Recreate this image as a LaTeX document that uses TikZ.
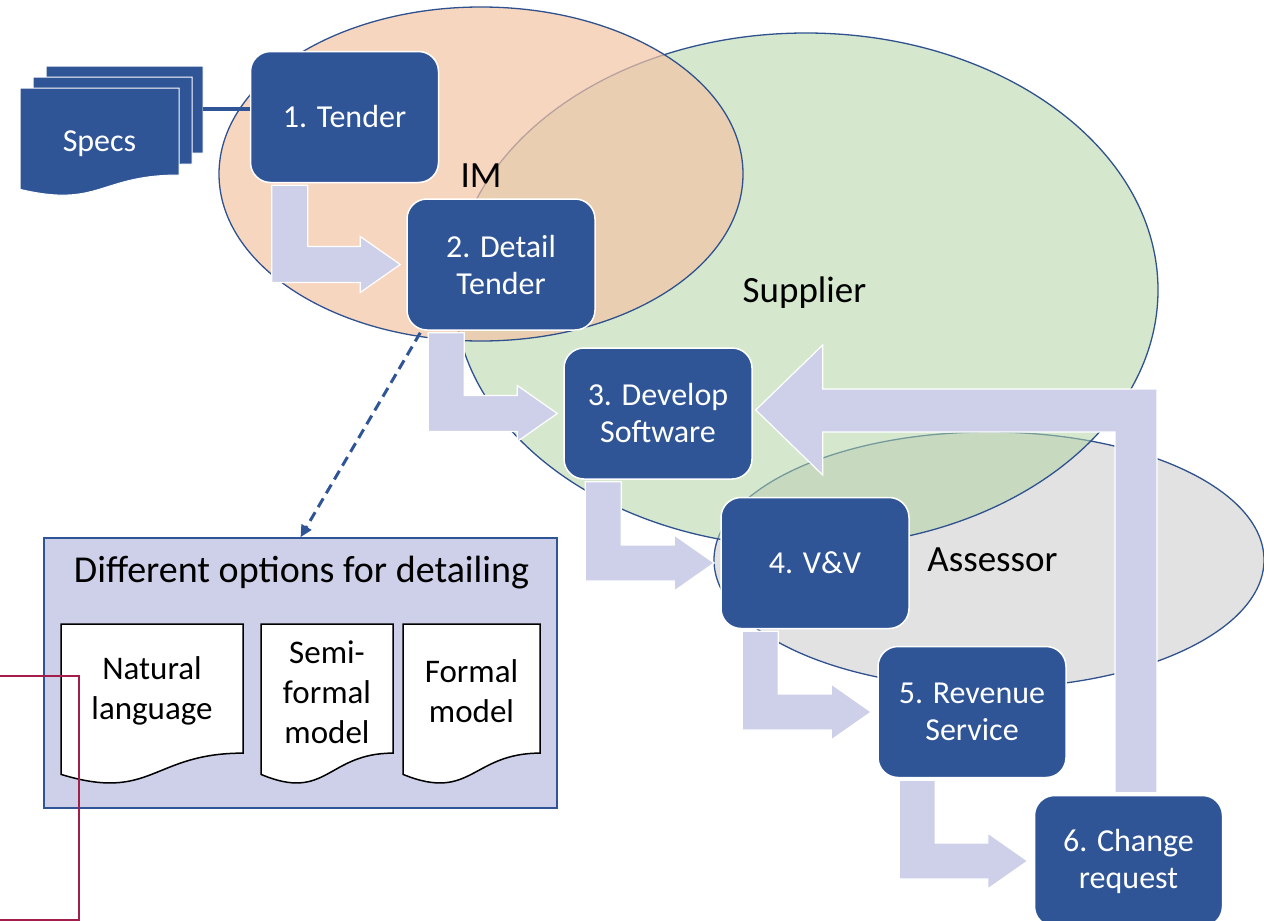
\documentclass[tikz,border=0pt]{standalone}
\usepackage{fontspec}
\setmainfont{Carlito}
\usetikzlibrary{arrows.meta,calc}

\definecolor{boxblue}{HTML}{2F5597}
\definecolor{flowlav}{HTML}{CDD0E8}
\definecolor{imfill}{RGB}{244,196,165}
\definecolor{supfill}{RGB}{178,213,165}
\definecolor{assfill}{HTML}{E2E2E2}
\definecolor{edgeblue}{HTML}{2F528F}
\definecolor{markred}{RGB}{165,30,75}

\tikzset{
  stage/.style={draw=white,line width=1.5pt,fill=boxblue,rounded corners=20pt,
    minimum width=188pt,minimum height=131pt,text=white,align=center,
    font=\fontsize{32}{37}\selectfont},
  region/.style={draw=edgeblue,line width=1.3pt},
  tag/.style={anchor=base,font=\fontsize{37}{44}\selectfont},
  flow/.style={fill=flowlav,draw=white,line width=1.2pt},
  docpage/.style={fill=white,draw=black,line width=1.5pt},
  specsheet/.style={fill=boxblue,draw=white,line width=1pt},
  doctext/.style={align=center,font=\fontsize{33}{40}\selectfont},
}

% sheet with wavy lower edge: style, x, y, width, height
\newcommand{\docsheet}[5]{%
  \draw[#1] (#2,#3) -- ({#2+#4},#3) -- ({#2+#4},{#3+0.802*#5})
    .. controls ({#2+0.5*#4},{#3+0.802*#5}) and ({#2+0.5*#4},{#3+1.1075*#5})
    .. (#2,{#3+0.934*#5}) -- cycle;}

% fat bent arrow from the bottom of one stage to the left side of the next
\newcommand{\bentflow}[2]{%
  \path[flow] let \p1=(#1.south west), \p2=(#2.west) in
    (\x1+22pt,\y1-2pt) -- (\x1+58pt,\y1-2pt) -- (\x1+58pt,\y2+18pt)
    -- (\x2-46pt,\y2+18pt) -- (\x2-46pt,\y2+28pt) -- (\x2-6pt,\y2)
    -- (\x2-46pt,\y2-28pt) -- (\x2-46pt,\y2-18pt) -- (\x1+22pt,\y2-18pt) -- cycle;}

\begin{document}
\begin{tikzpicture}[x=1pt,y=-1pt]
\useasboundingbox (0,0) rectangle (1264,921);

\draw[region,fill=assfill] (989,560) ellipse [x radius=275pt,y radius=128pt];
\draw[region,fill=supfill,fill opacity=0.55] (806,290) ellipse [x radius=352pt,y radius=257pt];
\draw[region,fill=imfill,fill opacity=0.7] (481,174) ellipse [x radius=262pt,y radius=167pt];

\node[tag] (lim) at (481,187) {IM};
\node[tag] (lsup) at (804.5,302) {Supplier};
\node[tag] (lass) at (992.5,571) {Assessor};

\node[stage] (t1) at (344.5,117) {1. Tender};
\node[stage] (t2) at (501,264.5) {2. Detail\\Tender};
\node[stage] (t3) at (658,413.5) {3. Develop\\Software};
\node[stage] (t4) at (815,563) {4. V\&V};
\node[stage] (t5) at (972,712) {5. Revenue\\Service};
\node[stage] (t6) at (1128.5,861) {6. Change\\request};

\bentflow{t1}{t2}
\bentflow{t2}{t3}
\bentflow{t3}{t4}
\bentflow{t4}{t5}
\bentflow{t5}{t6}
\path[flow] let \p1=(t6.north), \p2=(t3.east) in
  (\x1-13.5pt,\y1+2pt) -- (\x1+28.5pt,\y1+2pt) -- (\x1+28.5pt,\y2+24.5pt)
  -- (\x2+70pt,\y2+24.5pt) -- (\x2+70pt,\y2+68.5pt) -- (\x2+3pt,\y2+3.5pt)
  -- (\x2+70pt,\y2-61.5pt) -- (\x2+70pt,\y2-18.5pt) -- (\x1-13.5pt,\y2-18.5pt) -- cycle;

\docsheet{specsheet}{46}{66}{157}{108.5}
\docsheet{specsheet}{33}{77}{159}{108.5}
\docsheet{specsheet}{20}{88}{159}{108.5}
\node[text=white,anchor=base,font=\fontsize{32}{37}\selectfont] (specs) at (99.5,151) {Specs};
\coordinate (specsedge) at (203,109);
\draw[boxblue,line width=4pt] (specsedge) -- (specsedge -| t1.west);

\node[draw=boxblue,line width=1.5pt,fill=flowlav,minimum width=513pt,minimum height=270pt,inner sep=0pt] (opts) at (300.5,673) {};
\node[tag,font=\fontsize{38}{44}\selectfont] (optitle) at (301.5,582) {Different options for detailing};
\docsheet{docpage}{61}{624}{182}{161}
\docsheet{docpage}{261}{624}{132}{161}
\docsheet{docpage}{403}{624}{137}{161}
\node[doctext] (natlang) at (152,691) {Natural\\language};
\node[doctext] (semiform) at (327,692) {Semi-\\formal\\model};
\node[doctext] (formal) at (471.5,691) {Formal\\model};

\draw[boxblue,line width=3pt,dash pattern=on 10pt off 6pt,-{Triangle[length=12pt,width=11pt]}]
  ($(t2.south west)+(14,2)$) -- (opts.north);

\draw[markred,line width=2pt] (-2,676) -| (79,920) -- (-2,920);
\end{tikzpicture}
\end{document}
